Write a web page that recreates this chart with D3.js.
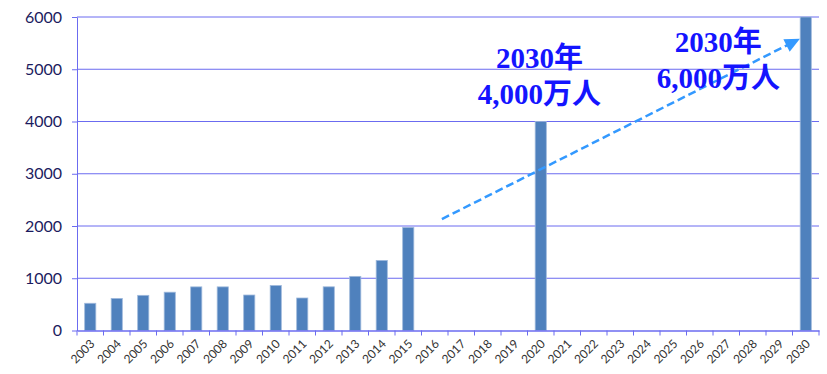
<!DOCTYPE html>
<html>
<head>
<meta charset="utf-8">
<script src="https://cdn.jsdelivr.net/npm/d3@7"></script>
<style>
  html, body { margin: 0; padding: 0; background: #ffffff; }
  svg { display: block; }
</style>
</head>
<body>
<svg id="chart" width="827" height="374"></svg>
<script>
const years = ["2003","2004","2005","2006","2007","2008","2009","2010","2011","2012","2013","2014","2015","2016","2017","2018","2019","2020","2021","2022","2023","2024","2025","2026","2027","2028","2029","2030"];
const visitors = [521, 614, 673, 733, 835, 835, 679, 861, 622, 836, 1036, 1341, 1974, null, null, null, null, 4000, null, null, null, null, null, null, null, null, null, 6000];
const yTicks = [0, 1000, 2000, 3000, 4000, 5000, 6000];
const annotations = [
  { year: "2020", offset: 0.45, lines: ["2030年", "4,000万人"] },
  { year: "2027", offset: 0.2, lines: ["2030年", "6,000万人"] }
];
const arrowFrom = { year: "2016", offset: 0.77, value: 2133 };
const arrowTo = { year: "2030", offset: 0.28, value: 5584 };

const svg = d3.select("#chart");
const margin = { left: 77, right: 8, top: 17, bottom: 43.5 };
const W = 827, H = 374;

const x = d3.scaleBand().domain(years).range([margin.left, W - margin.right]).paddingInner(0).paddingOuter(0);
const y = d3.scaleLinear().domain([0, 6000]).range([H - margin.bottom, margin.top]);

const gridColor = "#6b6bf0";

// gridlines
svg.append("g")
  .selectAll("line")
  .data(yTicks.filter(d => d > 0))
  .join("line")
  .attr("x1", margin.left).attr("x2", W - margin.right)
  .attr("y1", d => y(d)).attr("y2", d => y(d))
  .attr("stroke", gridColor).attr("stroke-width", 1);

// bars
const bw = x.bandwidth() * 0.42;
svg.append("g")
  .selectAll("rect")
  .data(years.map((yr, i) => ({ yr, v: visitors[i] })).filter(d => d.v != null))
  .join("rect")
  .attr("x", d => x(d.yr) + (x.bandwidth() - bw) / 2)
  .attr("width", bw)
  .attr("y", d => y(d.v))
  .attr("height", d => y(0) - y(d.v))
  .attr("fill", "#4f81bd")
  .attr("stroke", "#9fb9dc")
  .attr("stroke-width", 0.8);

// y axis
const yAxis = svg.append("g")
  .attr("transform", `translate(${margin.left},0)`)
  .call(d3.axisLeft(y).tickValues(yTicks).tickSize(5).tickSizeOuter(0).tickFormat(d3.format("d")));
yAxis.select(".domain").attr("stroke", gridColor);
yAxis.selectAll(".tick line").attr("stroke", gridColor);
yAxis.selectAll(".tick text")
  .attr("x", -15)
  .attr("fill", "#1b1b5e")
  .style("font-family", "Lato, 'Open Sans', sans-serif")
  .style("font-size", "16px");

// x axis
const xAxis = svg.append("g")
  .attr("transform", `translate(0,${y(0)})`)
  .call(d3.axisBottom(x).tickSize(0).tickSizeOuter(0));
xAxis.select(".domain").attr("stroke", gridColor).attr("stroke-width", 1.3);
// boundary ticks between categories
svg.append("g")
  .selectAll("line")
  .data(d3.range(years.length + 1))
  .join("line")
  .attr("x1", i => margin.left + i * x.bandwidth())
  .attr("x2", i => margin.left + i * x.bandwidth())
  .attr("y1", y(0)).attr("y2", y(0) + 5)
  .attr("stroke", gridColor).attr("stroke-width", 1);
xAxis.selectAll(".tick text")
  .attr("y", null)
  .attr("x", null)
  .attr("dy", null)
  .attr("text-anchor", "end")
  .attr("dominant-baseline", "middle")
  .attr("transform", "translate(3,12) rotate(-45)")
  .attr("fill", "#333333")
  .style("font-family", "Lato, 'Open Sans', sans-serif")
  .style("font-size", "12px");

// arrow
const ax1 = x(arrowFrom.year) + x.bandwidth() * arrowFrom.offset;
const ay1 = y(arrowFrom.value);
const ax2 = x(arrowTo.year) + x.bandwidth() * arrowTo.offset;
const ay2 = y(arrowTo.value);
const ang = Math.atan2(ay2 - ay1, ax2 - ax1);
const headLen = 15, headHalf = 7;
const bx = ax2 - headLen * Math.cos(ang), by = ay2 - headLen * Math.sin(ang);
svg.append("line")
  .attr("x1", ax1).attr("y1", ay1)
  .attr("x2", bx + 2 * Math.cos(ang)).attr("y2", by + 2 * Math.sin(ang))
  .attr("stroke", "#3399ff")
  .attr("stroke-width", 2.5)
  .attr("stroke-dasharray", "8,4");
svg.append("path")
  .attr("d", d3.line()([
    [ax2, ay2],
    [bx - headHalf * Math.sin(ang), by + headHalf * Math.cos(ang)],
    [bx + headHalf * Math.sin(ang), by - headHalf * Math.cos(ang)]
  ]) + "Z")
  .attr("fill", "#3399ff");

// annotations
const annY = [68, 52];
annotations.forEach((a, i) => {
  const cx = x(a.year) + x.bandwidth() * a.offset;
  const t = svg.append("text")
    .attr("text-anchor", "middle")
    .attr("fill", "#1414ff")
    .style("font-family", "'Liberation Serif', 'Noto Sans CJK JP', serif")
    .style("font-weight", "bold")
    .style("font-size", "29px");
  a.lines.forEach((ln, j) => {
    t.append("tspan")
      .attr("x", cx)
      .attr("y", annY[i] + j * 36)
      .text(ln);
  });
});
</script>
</body>
</html>
